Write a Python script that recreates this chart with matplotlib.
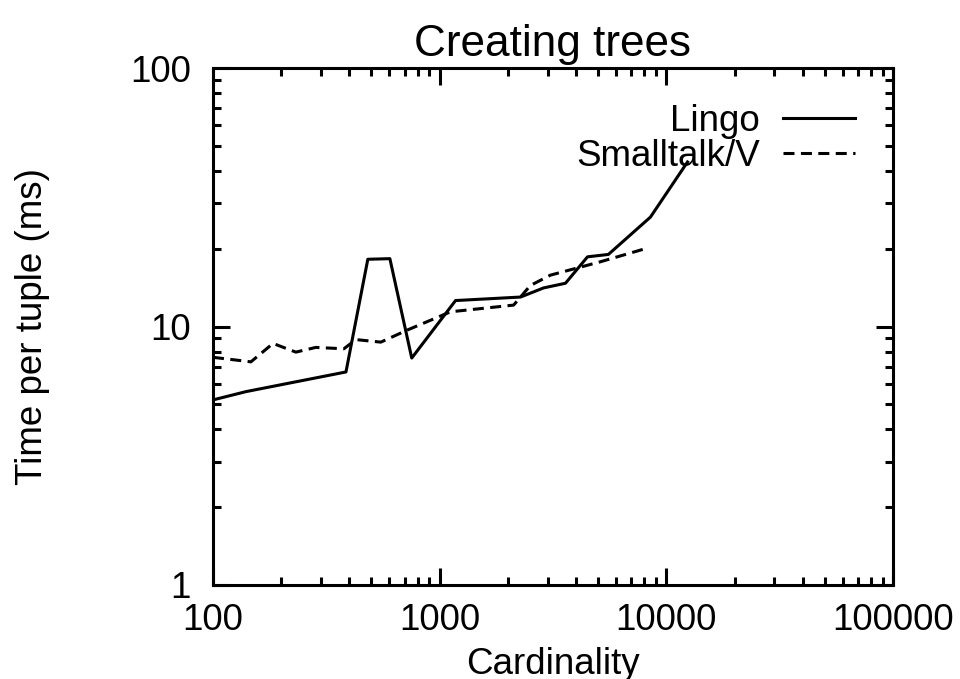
import matplotlib.pyplot as plt
from matplotlib.ticker import LogLocator, FixedLocator, NullFormatter

plt.rcParams.update({
    "font.family": ["Liberation Sans", "DejaVu Sans"],
    "font.size": 26.5,
    "axes.linewidth": 2.2,
})

# --- Data ---
lingo_card = [100, 140, 386, 482, 603, 753, 1175, 2275, 2873, 3590, 4490, 5550, 8510, 12400]
lingo_time = [5.2, 5.6, 6.67, 18.2, 18.3, 7.55, 12.6, 13.0, 14.1, 14.7, 18.6, 19.0, 26.5, 43.3]

st_card = [100, 147, 184, 232, 284, 378, 427, 550, 722, 1117, 2120, 2510, 3080, 5120, 8070]
st_time = [7.6, 7.3, 8.6, 7.96, 8.3, 8.2, 8.9, 8.7, 9.7, 11.4, 12.1, 14.4, 15.8, 17.8, 20.0]

x_ticks = [100, 1000, 10000, 100000]
x_labels = ["100", "1000", "10000", "100000"]
y_ticks = [1, 10, 100]
y_labels = ["1", "10", "100"]

fig = plt.figure(figsize=(9.6, 6.79), dpi=100)
ax = fig.add_axes([213 / 960, 1 - 585 / 679, (893 - 213) / 960, (585 - 68) / 679])

ax.plot(lingo_card, lingo_time, color="black", lw=2.2, label="Lingo")
ax.plot(st_card, st_time, color="black", lw=2.2, dashes=(3.6, 2.1), label="Smalltalk/V")

ax.set_xscale("log")
ax.set_yscale("log")
ax.set_xlim(100, 100000)
ax.set_ylim(1, 100)

ax.xaxis.set_major_locator(FixedLocator(x_ticks))
ax.set_xticklabels(x_labels)
ax.yaxis.set_major_locator(FixedLocator(y_ticks))
ax.set_yticklabels(y_labels)
ax.xaxis.set_minor_locator(LogLocator(base=10, subs=range(2, 10)))
ax.yaxis.set_minor_locator(LogLocator(base=10, subs=range(2, 10)))
ax.xaxis.set_minor_formatter(NullFormatter())
ax.yaxis.set_minor_formatter(NullFormatter())

ax.tick_params(which="both", direction="in", top=True, right=True, width=2.2)
ax.tick_params(which="major", length=12)
ax.tick_params(which="minor", length=6)
ax.tick_params(axis="x", which="major", pad=13)
ax.tick_params(axis="y", which="major", pad=16)

ax.set_title("Creating trees", pad=9)
ax.set_xlabel("Cardinality")
ax.set_ylabel("Time per tuple (ms)")
ax.xaxis.set_label_coords(0.5, -0.12)
ax.yaxis.set_label_coords(-0.239, 0.5)

ax.legend(loc="upper right", frameon=False, markerfirst=False,
          handlelength=1.95, handletextpad=0.64, labelspacing=0.0,
          borderpad=0, borderaxespad=0, bbox_to_anchor=(0.944, 0.930))

fig.savefig("out.png", dpi=100)
